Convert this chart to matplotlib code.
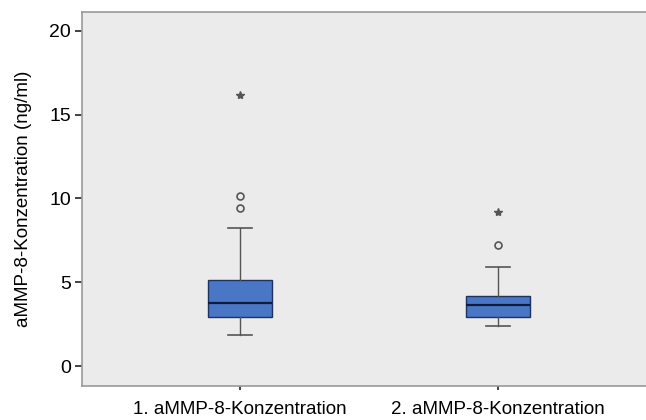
import matplotlib
matplotlib.use('Agg')
import matplotlib.pyplot as plt

# box statistics (ng/ml)
labels = ['1. aMMP-8-Konzentration', '2. aMMP-8-Konzentration']
q1 = [2.90, 2.90]
med = [3.75, 3.65]
q3 = [5.14, 4.18]
whislo = [1.85, 2.42]
whishi = [8.21, 5.93]
outliers_circle = [[9.45, 10.16], [7.22]]
outliers_star = [[16.2], [9.17]]

plt.rcParams['font.family'] = ['Liberation Sans', 'DejaVu Sans']

stats = []
for i in range(len(labels)):
    stats.append(dict(q1=q1[i], med=med[i], q3=q3[i], whislo=whislo[i],
                      whishi=whishi[i], fliers=[], label=labels[i]))

fig = plt.figure(figsize=(6.46, 4.2), dpi=100)
ax = fig.add_axes([82/646, 34/420, 564/646, 374/420])
ax.set_facecolor('#ebebeb')

ax.bxp(stats, positions=[1, 2], widths=0.25, patch_artist=True,
       boxprops=dict(facecolor='#4a76c6', edgecolor='#1e3260', linewidth=1),
       medianprops=dict(color='#0f1c3a', linewidth=1.6),
       whiskerprops=dict(color='#555555', linewidth=1),
       capprops=dict(color='#555555', linewidth=1.2),
       capwidths=0.09)

for i in range(len(labels)):
    ax.plot([i + 1] * len(outliers_circle[i]), outliers_circle[i], 'o',
            mfc='none', mec='#555555', ms=5, mew=1.2)
    ax.plot([i + 1] * len(outliers_star[i]), outliers_star[i], '*',
            color='#555555', ms=6)

ax.set_xlim(0.388, 2.574)
ax.set_ylim(-1.19, 21.13)
ax.set_yticks([0, 5, 10, 15, 20])
ax.set_xticks([1, 2])
ax.set_xticklabels(labels, fontsize=13.5)
ax.tick_params(axis='y', labelsize=14, length=5, width=1.2, color='#222222', pad=3)
ax.tick_params(axis='x', length=3, width=1.2, color='#222222', pad=8)
ax.set_ylabel('aMMP-8-Konzentration (ng/ml)', fontsize=13.5, labelpad=12)

for s in ['top', 'bottom', 'left']:
    ax.spines[s].set_color('#999999')
    ax.spines[s].set_linewidth(1.2)
ax.spines['right'].set_visible(False)

fig.savefig('out.png', dpi=100)
